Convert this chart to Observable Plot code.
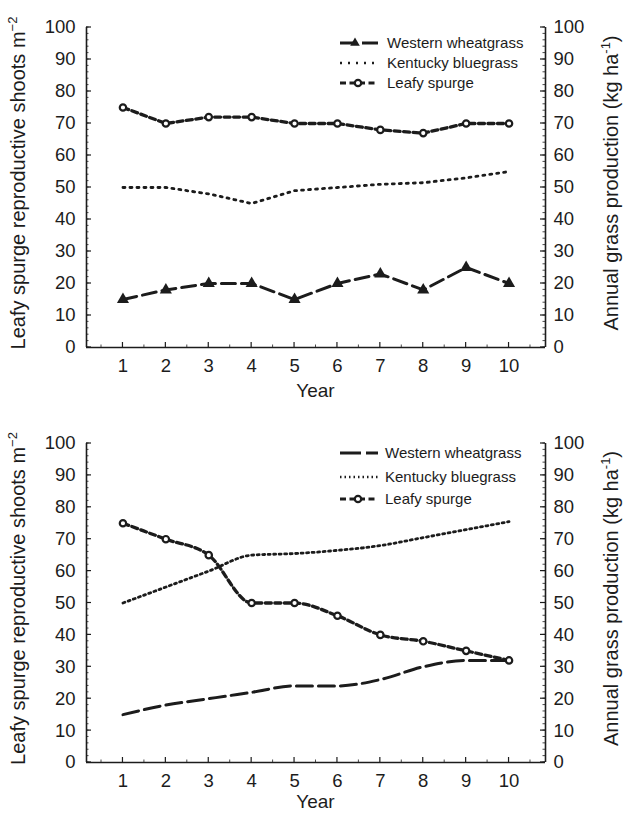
<!DOCTYPE html>
<html><head><meta charset="utf-8">
<script src="https://cdn.jsdelivr.net/npm/d3@7"></script>
<script src="https://cdn.jsdelivr.net/npm/@observablehq/plot@0.6"></script>
<style>
body{margin:0;background:#fff;}
#chart{width:624px;}
#chart svg{display:block;}
</style></head><body><div id="chart"></div>
<script>
const years = [1, 2, 3, 4, 5, 6, 7, 8, 9, 10];
const seriesNames = ["Western wheatgrass", "Kentucky bluegrass", "Leafy spurge"];
const yTicks = [0, 10, 20, 30, 40, 50, 60, 70, 80, 90, 100];
const yMinorTicks = d3.range(0, 101, 2);
const xMinorTicks = [0.5, 1.5, 2.5, 3.5, 4.5, 5.5, 6.5, 7.5, 8.5, 9.5, 10.5];
const topWestern = [15, 18, 20, 20, 15, 20, 23, 18, 25, 20];
const topKentucky = [50, 50, 48, 45, 49, 50, 51, 51.5, 53, 55];
const topLeafy = [75, 70, 72, 72, 70, 70, 68, 67, 70, 70];
const bottomWestern = [15, 18, 20, 22, 24, 24, 26, 30, 32, 32];
const bottomKentucky = [50, 55, 60, 65, 65.5, 66.5, 68, 70.5, 73, 75.5];
const bottomLeafy = [75, 70, 65, 50, 50, 46, 40, 38, 35, 32];
const xTitle = "Year";
const leftTitle = ["Leafy spurge reproductive shoots m", "\u22122", ""];
const rightTitle = ["Annual grass production (kg ha", "-1", ")"];

const ink = "#1c1c1c";
const font = "'Liberation Sans', Arial, Helvetica, sans-serif";
const xDomain = [0.15, 10.85];

function rows(arr) { return years.map((year, i) => ({year, value: arr[i]})); }

function panel(cfg) {
  const W = 624, H = 408, mL = 86, mR = 79;
  const marks = [
    Plot.ruleX(xDomain, {stroke: ink, strokeWidth: 1.6}),
    Plot.ruleY([0], {stroke: ink, strokeWidth: 1.6}),
    Plot.axisY(yTicks, {anchor: "left", tickSize: 0, tickPadding: 11, label: null, fontSize: 18.5, fill: ink}),
    Plot.axisY(yTicks, {anchor: "right", tickSize: 0, tickPadding: 8, label: null, fontSize: 18.5, fill: ink}),
    Plot.axisX(years, {anchor: "bottom", tickSize: 0, tickPadding: 11, label: null, fontSize: 18.5, fill: ink}),
    Plot.line(rows(cfg.kent), {x: "year", y: "value", stroke: ink, strokeWidth: 2.8, strokeDasharray: cfg.kentDash, curve: cfg.curve}),
    Plot.line(rows(cfg.west), {x: "year", y: "value", stroke: ink, strokeWidth: 3, strokeDasharray: cfg.westDash, curve: cfg.curve}),
    Plot.line(rows(cfg.leafy), {x: "year", y: "value", stroke: ink, strokeWidth: 3.3, strokeDasharray: "6,3.5", curve: cfg.curve}),
    Plot.dot(rows(cfg.leafy), {x: "year", y: "value", r: 3.2, fill: "white", stroke: ink, strokeWidth: 2.2})
  ];
  if (cfg.westMarker) marks.push(Plot.dot(rows(cfg.west), {x: "year", y: "value", symbol: "triangle", r: 4.5, fill: ink}));
  const svg = Plot.plot({
    width: W, height: H, marginLeft: mL, marginRight: mR,
    marginTop: cfg.mT, marginBottom: cfg.mB,
    x: {domain: xDomain}, y: {domain: [0, 100]},
    style: {fontFamily: font, fontSize: "18px", color: ink, background: "white"},
    marks
  });
  const s = d3.select(svg);
  const xs = svg.scale("x"), ys = svg.scale("y");
  const X = v => xs.apply(v), Y = v => ys.apply(v);
  const yr = ys.range;
  const cy = (yr[0] + yr[1]) / 2;
  const cx = (mL + W - mR) / 2;
  const tk = s.append("g").attr("stroke", ink);
  const xl = X(xDomain[0]), xr = X(xDomain[1]), yb = Y(0);
  yTicks.forEach(v => {
    tk.append("line").attr("x1", xl).attr("x2", xl + 5).attr("y1", Y(v)).attr("y2", Y(v)).attr("stroke-width", 1.2);
    tk.append("line").attr("x1", xr - 5).attr("x2", xr).attr("y1", Y(v)).attr("y2", Y(v)).attr("stroke-width", 1.2);
  });
  yMinorTicks.forEach(v => {
    tk.append("line").attr("x1", xl).attr("x2", xl + 2.5).attr("y1", Y(v)).attr("y2", Y(v)).attr("stroke-width", 0.8);
    tk.append("line").attr("x1", xr - 2.5).attr("x2", xr).attr("y1", Y(v)).attr("y2", Y(v)).attr("stroke-width", 0.8);
  });
  years.forEach(v => tk.append("line").attr("x1", X(v)).attr("x2", X(v)).attr("y1", yb).attr("y2", yb - 5).attr("stroke-width", 1.2));
  xMinorTicks.forEach(v => tk.append("line").attr("x1", X(v)).attr("x2", X(v)).attr("y1", yb).attr("y2", yb - 2.5).attr("stroke-width", 0.8));

  function title(x, parts) {
    const t = s.append("text").attr("transform", `translate(${x},${cy - 4}) rotate(-90)`)
      .attr("text-anchor", "middle").attr("dy", "0.35em")
      .attr("font-size", 20).attr("fill", ink).attr("font-family", font);
    t.append("tspan").text(parts[0]);
    t.append("tspan").attr("font-size", 13).attr("dy", -8).text(parts[1]);
    if (parts[2]) t.append("tspan").attr("dy", 8).text(parts[2]);
  }
  title(18, leftTitle);
  title(611, rightTitle);
  s.append("text").attr("x", cx).attr("y", cfg.yearY).attr("text-anchor", "middle")
    .attr("font-size", 19).attr("fill", ink).attr("font-family", font).text(xTitle);
  const lg = s.append("g");
  seriesNames.forEach((name, i) => {
    const y = cfg.legendY[i];
    const x0 = 340, x1 = 378;
    lg.append("text").attr("x", cfg.legendTextX).attr("y", y).attr("dy", "0.35em")
      .attr("text-anchor", "start")
      .attr("font-size", 15).attr("fill", ink).attr("font-family", font).text(name);
    if (i === 0) {
      lg.append("line").attr("x1", x0).attr("x2", x1).attr("y1", y).attr("y2", y)
        .attr("stroke", ink).attr("stroke-width", 2.8).attr("stroke-dasharray", cfg.legendWestDash);
      if (cfg.westMarker) lg.append("path").attr("d", d3.symbol(d3.symbolTriangle, 40)())
        .attr("transform", `translate(355,${y})`).attr("fill", ink);
    } else if (i === 1) {
      lg.append("line").attr("x1", x0).attr("x2", x1).attr("y1", y).attr("y2", y)
        .attr("stroke", ink).attr("stroke-width", 2.6).attr("stroke-dasharray", cfg.legendKentDash);
    } else {
      lg.append("line").attr("x1", x0).attr("x2", x1).attr("y1", y).attr("y2", y)
        .attr("stroke", ink).attr("stroke-width", 3.2).attr("stroke-dasharray", "6,3.5");
      lg.append("circle").attr("cx", 358).attr("cy", y).attr("r", 3.2)
        .attr("fill", "white").attr("stroke", ink).attr("stroke-width", 2.2);
    }
  });
  return svg;
}

const chart = document.getElementById("chart");
chart.append(panel({
  west: topWestern, kent: topKentucky, leafy: topLeafy,
  mT: 27, mB: 61, curve: "linear", westMarker: true, westDash: "14,6", kentDash: "2,5",
  yearY: 397, legendY: [43, 63, 83], legendTextX: 387,
  legendWestDash: "15,7,16", legendKentDash: "2,6"
}));
chart.append(panel({
  west: bottomWestern, kent: bottomKentucky, leafy: bottomLeafy,
  mT: 35, mB: 54, curve: "monotone-x", westMarker: false, westDash: "16,6", kentDash: "2,3.5",
  yearY: 400, legendY: [45, 69, 91], legendTextX: 385,
  legendWestDash: "21,5", legendKentDash: "1.5,3"
}));
</script>
</body></html>
